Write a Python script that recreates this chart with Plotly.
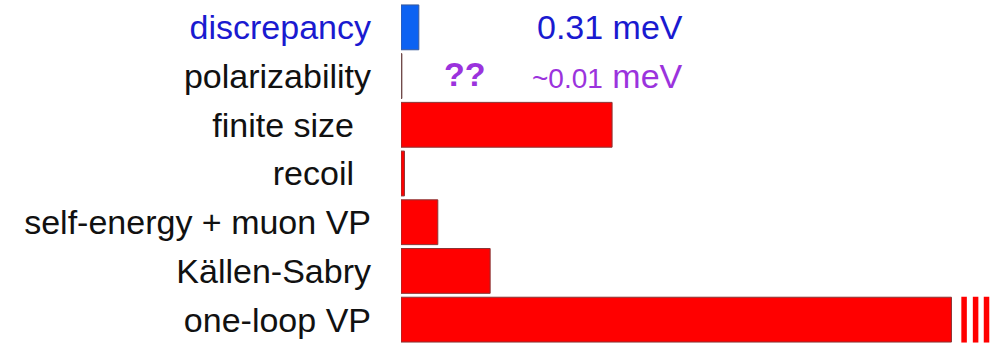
import plotly.graph_objects as go

# Contributions to the muonic-hydrogen Lamb shift (meV), bottom to top
categories = ["one-loop VP", "Källen-Sabry", "self-energy + muon VP", "recoil",
              "finite size", "polarizability", "discrepancy"]
values_meV = [205.0, 1.55, 0.64, 0.06, 3.67, 0.015, 0.31]
tick_labels = ["one-loop VP", "Källen-Sabry", "self-energy + muon VP", "recoil\u2002",
               "finite size\u2002", "polarizability",
               '<span style="color:#1a1ad0">discrepancy</span>']

AXIS_BREAK = 9.57       # where the huge one-loop VP bar is cut
X_MAX = 10.31
BREAK_MARKS = [9.79, 9.99, 10.18]

shown = [min(v, AXIS_BREAK) for v in values_meV]
fill = ["#ff0000"] * 7
fill[5] = "#6e4646"
fill[6] = "#0c62f2"
edge = ["#8a3434"] * 7
edge[5] = "#6e4646"
edge[6] = "#3a5a9a"

FONT = "Liberation Sans, Arial, sans-serif"

fig = go.Figure(go.Bar(
    y=categories, x=shown, orientation="h", width=0.92,
    marker=dict(color=fill, line=dict(color=edge, width=1)),
    hoverinfo="skip",
))

for xm in BREAK_MARKS:
    fig.add_shape(type="rect", xref="x", yref="y",
                  x0=xm - 0.048, x1=xm + 0.048, y0=-0.47, y1=0.47,
                  fillcolor="#ff0000", line=dict(width=0), layer="above")

fig.add_annotation(x=4.94, y="discrepancy", xref="x", yref="y", text="0.31 meV",
                   showarrow=False, xanchor="right", yanchor="middle",
                   font=dict(family=FONT, size=34, color="#1a1ad0"))
fig.add_annotation(x=0.71, y="polarizability", xref="x", yref="y", text="<b>??</b>",
                   showarrow=False, xanchor="left", yanchor="middle", yshift=2,
                   font=dict(family=FONT, size=34, color="#9b33dd"))
fig.add_annotation(x=4.94, y="polarizability", xref="x", yref="y",
                   text='<span style="font-size:28px">~0.01</span> meV',
                   showarrow=False, xanchor="right", yanchor="middle",
                   font=dict(family=FONT, size=34, color="#9b33dd"))

fig.update_layout(
    width=994, height=346,
    margin=dict(l=401, r=0, t=3, b=2, autoexpand=False),
    paper_bgcolor="white", plot_bgcolor="white",
    showlegend=False,
    bargap=0.08,
    xaxis=dict(range=[0, X_MAX], visible=False, fixedrange=True, automargin=False),
    yaxis=dict(categoryorder="array", categoryarray=categories,
               tickvals=categories, ticktext=tick_labels,
               ticks="", showline=False, showgrid=False, zeroline=False,
               ticklabelstandoff=29, automargin=False,
               tickfont=dict(family=FONT, size=34, color="#111111"),
               range=[-0.5, 6.5], fixedrange=True),
)

fig.write_html("out.html", config={"displayModeBar": False},
               post_script="document.body.style.margin='0';document.body.style.overflow='hidden';")
